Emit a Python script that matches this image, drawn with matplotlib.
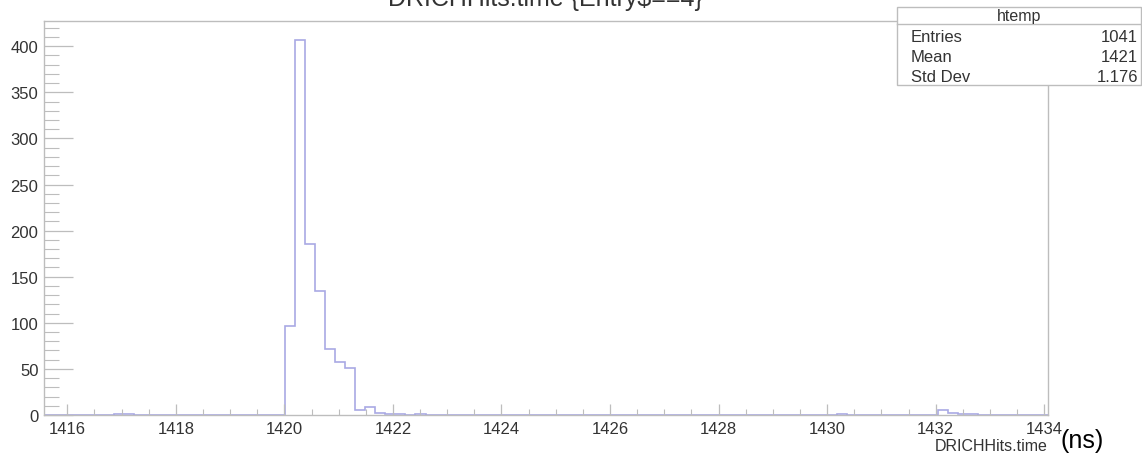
"""ROOT-style histogram of DRICHHits.time for one entry."""

import matplotlib.pyplot as plt
import numpy as np
from matplotlib.patches import Rectangle
from matplotlib.ticker import MultipleLocator

plt.rcParams["font.family"] = ["Liberation Sans", "DejaVu Sans"]

# histogram binning (ROOT htemp, 100 bins)
X_MIN = 1415.57
BIN_WIDTH = 0.185
N_BINS = 100

# non-empty bins: index -> count
bin_index = [7, 8, 24, 25, 26, 27, 28, 29, 30, 31, 32, 33, 34, 35, 37, 79, 89, 90, 91, 92]
bin_count = [1, 1, 96, 407, 186, 134, 72, 58, 51, 5, 9, 2, 1, 1, 1, 1, 5, 2, 1, 1]

title = "DRICHHits.time {Entry$==4}"
stats_name = "htemp"
stats_rows = [("Entries", "1041"), ("Mean", "1421"), ("Std Dev", "1.176")]

W, H = 1142, 460
fig = plt.figure(figsize=(W / 100, H / 100), dpi=100)
ax = fig.add_axes([44 / W, 1 - 416 / H, (1048 - 44) / W, (416 - 22) / H])

edges = X_MIN + BIN_WIDTH * np.arange(N_BINS + 1)
counts = np.zeros(N_BINS)
counts[bin_index] = bin_count

ax.stairs(counts, edges, fill=False, color="#a9a9e4", linewidth=1.2, baseline=0)

ax.set_xlim(edges[0], edges[-1])
ax.set_ylim(0, 1.05 * max(bin_count))

frame_col = "#bdbdbd"
text_col = "#333333"
for sp in ax.spines.values():
    sp.set_color(frame_col)
    sp.set_linewidth(1.0)

ax.xaxis.set_major_locator(MultipleLocator(2))
ax.xaxis.set_minor_locator(MultipleLocator(0.5))
ax.yaxis.set_major_locator(MultipleLocator(50))
ax.yaxis.set_minor_locator(MultipleLocator(10))
ax.tick_params(axis="x", which="major", direction="in", length=8, width=0.9,
               color=frame_col, labelsize=12, labelcolor=text_col, pad=4)
ax.tick_params(axis="x", which="minor", direction="in", length=4, width=0.8, color=frame_col)
ax.tick_params(axis="y", which="major", direction="in", length=21, width=0.9,
               color=frame_col, labelsize=12, labelcolor=text_col, pad=4)
ax.tick_params(axis="y", which="minor", direction="in", length=11, width=0.8, color=frame_col)

# title, partly cut off at the top edge as in the saved canvas
fig.text(545 / W, 1 - 6 / H, title, ha="center", va="baseline", fontsize=18, color=text_col)

# axis title and unit
fig.text(1048 / W, 1 - 447 / H, "DRICHHits.time", ha="right", va="center",
         fontsize=11.5, color=text_col)
fig.text(1060 / W, 1 - 441 / H, "(ns)", ha="left", va="center", fontsize=18, color="black")

# stats box
bx0, bx1, by0, by1, bhead = 897, 1141, 8, 86, 25
fig.patches.append(Rectangle((bx0 / W, 1 - by1 / H), (bx1 - bx0) / W, (by1 - by0) / H,
                             transform=fig.transFigure, facecolor="white",
                             edgecolor=frame_col, linewidth=1.0, zorder=5))
fig.lines.append(plt.Line2D([bx0 / W, bx1 / W], [1 - bhead / H, 1 - bhead / H],
                            transform=fig.transFigure, color=frame_col, linewidth=1.0, zorder=6))
fig.text((bx0 + bx1) / 2 / W, 1 - 16 / H, stats_name, ha="center", va="center",
         fontsize=11.5, color=text_col, zorder=7)
for i, (name, val) in enumerate(stats_rows):
    y = 1 - (37 + i * 20.3) / H
    fig.text(911 / W, y, name, ha="left", va="center", fontsize=12, color=text_col, zorder=7)
    fig.text(1138 / W, y, val, ha="right", va="center", fontsize=12, color=text_col, zorder=7)

fig.savefig("out.png", dpi=100)
